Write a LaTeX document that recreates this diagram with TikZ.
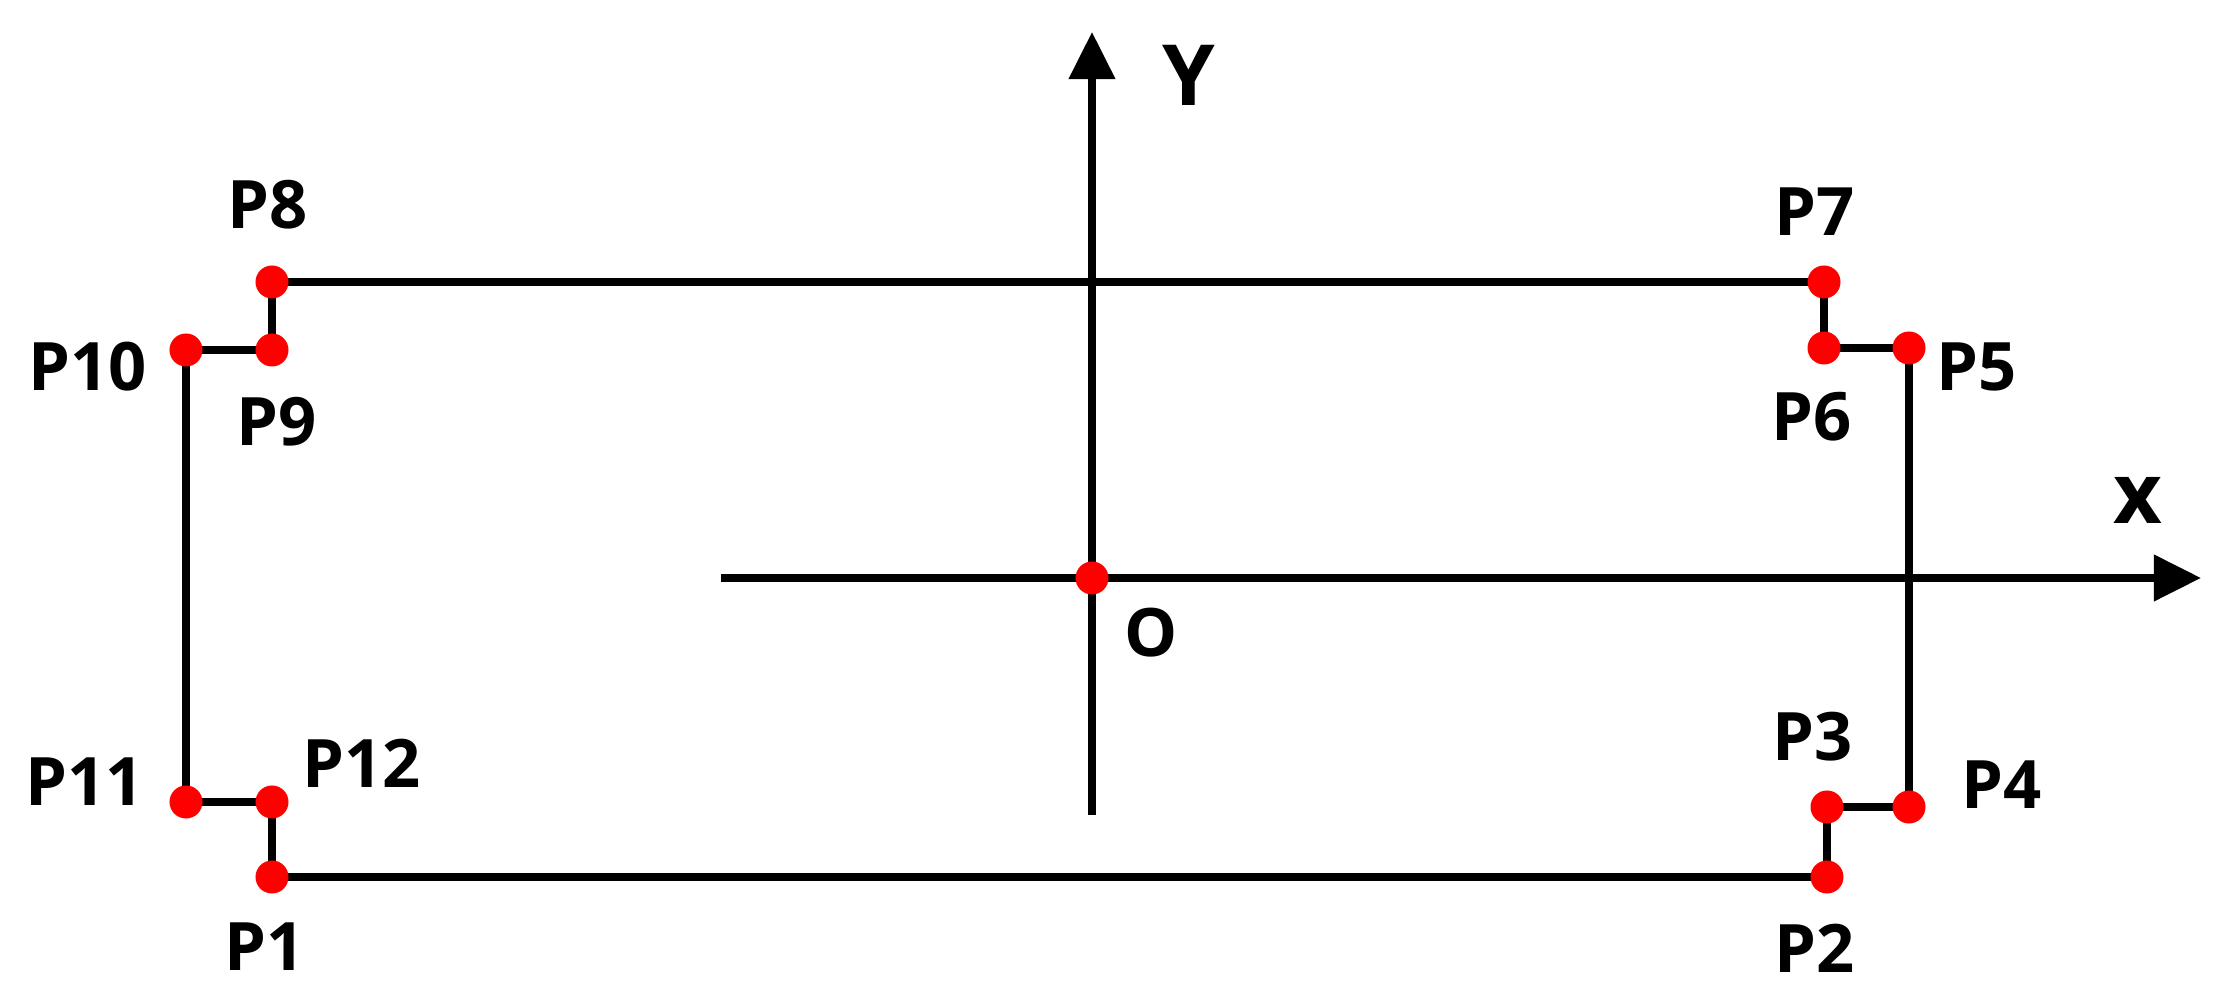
\documentclass[tikz,border=0pt]{standalone}
\usepackage{fontspec}
\setmainfont{Open Sans}
\usetikzlibrary{arrows.meta}
\tikzset{
  dot/.style = {circle, fill = red, inner sep = 0pt, minimum size = 0.33cm},
  ptlabel/.style = {font = \bfseries\fontsize{19}{23}\selectfont, inner sep = 0pt},
  axlabel/.style = {font = \bfseries\fontsize{24}{29}\selectfont, inner sep = 0pt},
  axis/.style = {line width = 0.073cm, -{Triangle[length = 0.47cm, width = 0.45cm]}},
  edge/.style = {line width = 0.073cm}
}
\begin{document}
\begin{tikzpicture} [x = 0.01cm, y = -0.01cm]
	\useasboundingbox (0,0) rectangle (2220,1004);

	\coordinate (p1) at (272,877);
	\coordinate (p2) at (1827,877);
	\coordinate (p3) at (1827,807);
	\coordinate (p4) at (1909,807);
	\coordinate (p5) at (1909,348);
	\coordinate (p6) at (1824,348);
	\coordinate (p7) at (1824,282);
	\coordinate (p8) at (272,282);
	\coordinate (p9) at (272,350);
	\coordinate (p10) at (186,350);
	\coordinate (p11) at (186,802);
	\coordinate (p12) at (272,802);

	\coordinate (xstart) at (721,578);
	\coordinate (xend) at (2201,578);
	\coordinate (ystart) at (1092,815);
	\coordinate (yend) at (1092,32);

	\draw [axis] (xstart) -- (xend) ;
	\draw [axis] (ystart) -- (yend) ;

	\draw [edge] (p1) -- (p2) -- (p3) -- (p4) -- (p5) -- (p6) -- (p7) -- (p8) -- (p9) -- (p10) -- (p11) -- (p12) -- cycle ;

	\foreach \i in {1,...,12}
		\node [dot] (d\i) at (p\i) {};
	\node [dot] (o) at (1092,578) {};

	\node [ptlabel] (l1) at (265,947) {P1};
	\node [ptlabel] (l2) at (1815,948) {P2};
	\node [ptlabel] (l3) at (1813,737) {P3};
	\node [ptlabel] (l4) at (2002,785) {P4};
	\node [ptlabel] (l5) at (1977,367) {P5};
	\node [ptlabel] (l6) at (1812,417) {P6};
	\node [ptlabel] (l7) at (1815,212) {P7};
	\node [ptlabel] (l8) at (268,205) {P8};
	\node [ptlabel] (l9) at (277,422) {P9};
	\node [ptlabel] (l10) at (88,367) {P10};
	\node [ptlabel] (l11) at (85,782) {P11};
	\node [ptlabel] (l12) at (362,763) {P12};
	\node [ptlabel] (lo) at (1151,633) {O};

	\node [axlabel] (ly) at (1189,75) {Y};
	\node [axlabel] (lx) at (2138,500) {x};
\end{tikzpicture}
\end{document}
